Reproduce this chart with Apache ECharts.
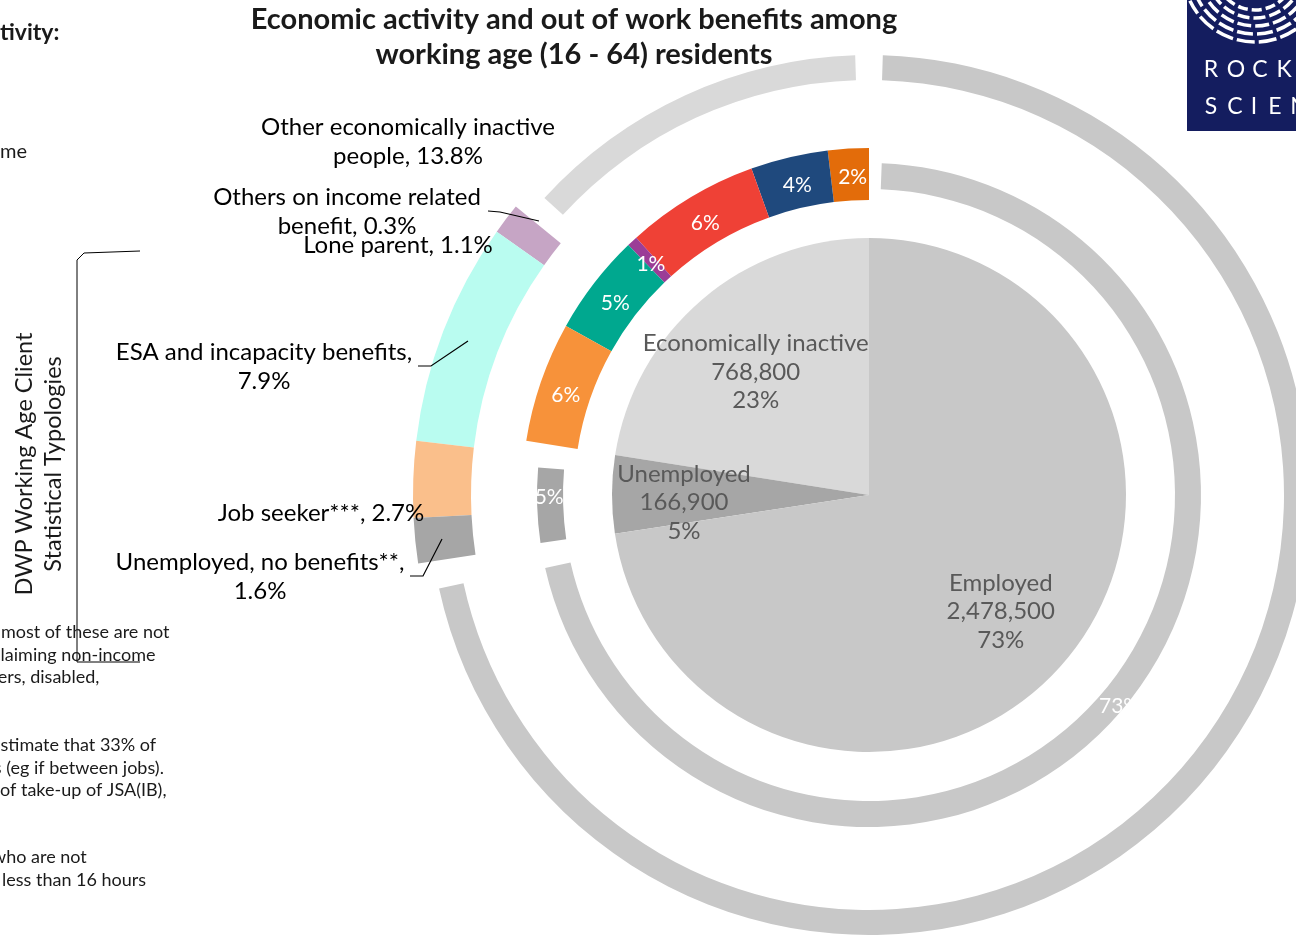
<!DOCTYPE html>
<html><head><meta charset="utf-8">
<script src="https://cdn.jsdelivr.net/npm/echarts@6/dist/echarts.min.js"></script>
<style>html,body{margin:0;padding:0;background:#fff}#c{width:1296px;height:937px}</style>
</head><body><div id="c"></div>
<script>
// ---------- DATA ----------
const titleLines = ['Economic activity and out of work benefits among', 'working age (16 - 64) residents'];

// Inner pie: economic activity of working age residents (counts)
const activityNames = ['Economically inactive', 'Unemployed', 'Employed'];
const activityCounts = [768800, 166900, 2478500];

// Middle ring: % of working age residents (inactive split by group, then unemployed, employed)
const middleNames = ['Inactive group A', 'Inactive group B', 'Inactive group C', 'Inactive group D', 'Inactive group E', 'Inactive group F', 'Unemployed', 'Employed'];
const middleValues = [1.9, 3.6, 6.2, 0.5, 4.7, 5.6, 4.89, 72.59];

// Outer ring: DWP Working Age Client Statistical Typologies (% of working age residents)
const outerNames = ['Other economically inactive\npeople', 'Others on income related\nbenefit', 'Lone parent', 'ESA and incapacity benefits', 'Job seeker***', 'Unemployed, no benefits**', 'Employed'];
const outerValues = [13.8, 0.3, 1.1, 7.9, 2.7, 1.6, 72.6];

const sideTitle = ['DWP Working Age Client', 'Statistical Typologies'];
const noteLines = [
  ['most of these are not', 1, 632],
  ['claiming non-income', -8, 655],
  ['carers, disabled,', -26, 677],
  ['estimate that 33% of', -9, 745],
  ['benefits (eg if between jobs).', -62, 768],
  ['of take-up of JSA(IB),', 0, 790],
  ['who are not', -8, 857],
  ['less than 16 hours', 2, 880]
];

// ---------- STYLE ----------
const FONT = 'Lato, "Noto Sans", sans-serif';
const CX = 869, CY = 495;
const innerColors = { 'Economically inactive': '#d9d9d9', 'Unemployed': '#a6a6a6', 'Employed': '#c8c8c8' };
const innerLabelShift = { 'Economically inactive': [3, 13], 'Unemployed': [-6, 8], 'Employed': [-4, 0] };
const middleThick = {
  'Inactive group A': '#e36c0a', 'Inactive group B': '#1f497d', 'Inactive group C': '#ef4136',
  'Inactive group D': '#9b3d97', 'Inactive group E': '#00a88f', 'Inactive group F': '#f7923a'
};
const middleThin = { 'Unemployed': '#a6a6a6', 'Employed': '#c8c8c8' };
const middleLabelShift = { 'Unemployed': [2, -8], 'Employed': [3, 5] };
const outerThick = {
  'Others on income related\nbenefit': 'rgba(0,0,0,0)', 'Lone parent': '#c6a5c5', 'ESA and incapacity benefits': '#b9fcf0',
  'Job seeker***': '#fabf8b', 'Unemployed, no benefits**': '#a6a6a6'
};
const outerThin = { 'Other economically inactive\npeople': '#d9d9d9', 'Employed': '#c8c8c8' };
const breakAfterComma = { 'ESA and incapacity benefits': true, 'Unemployed, no benefits**': true };
const outerLabelPos = {
  'Other economically inactive\npeople': { x: 408, y: 142 },
  'Others on income related\nbenefit': { x: 347, y: 212 },
  'Lone parent': { x: 398, y: 245 },
  'ESA and incapacity benefits': { x: 264, y: 367 },
  'Job seeker***': { x: 321, y: 513 },
  'Unemployed, no benefits**': { x: 260, y: 577 }
};
const leaderLines = [
  [[488, 211], [500, 212], [539, 221]],
  [[418, 366], [431, 366], [468, 341]],
  [[410, 576], [423, 576], [442, 539]]
];
const TRANSPARENT = 'rgba(0,0,0,0)';

function outerLabel(name, v) {
  return name + (breakAfterComma[name] ? ',\n' : ', ') + v.toFixed(1) + '%';
}

const base = {
  type: 'pie', center: [CX, CY], startAngle: 90, clockwise: false,
  avoidLabelOverlap: false, silent: true, animation: false,
  emphasis: { disabled: true }
};

const series = [];
// inner pie
series.push(Object.assign({}, base, {
  radius: [0, 257],
  label: { show: false }, labelLine: { show: false },
  data: activityNames.map((n, i) => ({ name: n, value: activityCounts[i], itemStyle: { color: innerColors[n], borderWidth: 0 } }))
}));
// inner labels
series.push(Object.assign({}, base, {
  radius: [95, 257],
  label: {
    show: true, position: 'inside', color: '#595959', fontFamily: FONT, fontSize: 24, lineHeight: 28.5,
    formatter: p => p.name + '\n' + p.value.toLocaleString('en-US') + '\n' + Math.round(p.percent) + '%'
  },
  labelLine: { show: false },
  labelLayout: p => { const s = innerLabelShift[activityNames[p.dataIndex]]; return { dx: s[0], dy: s[1] }; },
  data: activityNames.map((n, i) => ({ name: n, value: activityCounts[i], itemStyle: { color: TRANSPARENT, borderWidth: 0 } }))
}));
// middle thick
series.push(Object.assign({}, base, {
  radius: [295, 347],
  label: { show: true, position: 'inside', color: '#fff', fontFamily: FONT, fontSize: 21, formatter: p => Math.round(p.value) + '%' },
  labelLine: { show: false },
  labelLayout: () => ({ dx: 3, dy: 6 }),
  data: middleNames.map((n, i) => ({
    name: n, value: middleValues[i],
    itemStyle: { color: middleThick[n] || TRANSPARENT, borderWidth: 0 },
    label: { show: !!middleThick[n] }
  }))
}));
// middle thin
series.push(Object.assign({}, base, {
  radius: [306, 332], padAngle: 4.4,
  label: { show: true, position: 'inside', color: '#fff', fontFamily: FONT, fontSize: 21, formatter: p => Math.round(p.value) + '%' },
  labelLine: { show: false },
  labelLayout: p => { const s = middleLabelShift[middleNames[p.dataIndex]] || [0, 0]; return { dx: s[0], dy: s[1] }; },
  data: middleNames.map((n, i) => ({
    name: n, value: middleValues[i],
    itemStyle: { color: middleThin[n] || TRANSPARENT, borderWidth: 0 },
    label: { show: !!middleThin[n] }
  }))
}));
function outerLayout(p) {
  const pos = outerLabelPos[outerNames[p.dataIndex]];
  if (!pos) return {};
  return { x: pos.x, y: pos.y, align: 'center', verticalAlign: 'middle' };
}
// outer thick
series.push(Object.assign({}, base, {
  radius: [398, 456],
  label: { show: true, position: 'outside', color: '#000', fontFamily: FONT, fontSize: 24, lineHeight: 29, align: 'center',
    formatter: p => outerLabel(p.name, p.value) },
  labelLine: { show: false },
  labelLayout: outerLayout,
  data: outerNames.map((n, i) => ({
    name: n, value: outerValues[i],
    itemStyle: { color: outerThick[n] || TRANSPARENT, borderWidth: 0 },
    label: { show: !!outerThick[n] }
  }))
}));
// outer thin
series.push(Object.assign({}, base, {
  radius: [415, 440], padAngle: 3.6,
  label: { show: true, position: 'outside', color: '#000', fontFamily: FONT, fontSize: 24, lineHeight: 29, align: 'center',
    formatter: p => outerLabel(p.name, p.value) },
  labelLine: { show: false },
  labelLayout: outerLayout,
  data: outerNames.map((n, i) => ({
    name: n, value: outerValues[i],
    itemStyle: { color: outerThin[n] || TRANSPARENT, borderWidth: 0 },
    label: { show: !!outerThin[n] && n !== 'Employed' }
  }))
}));

// ---------- GRAPHICS ----------
const graphic = [];
graphic.push({ type: 'text', x: 574, y: 37, style: { text: titleLines.join('\n'), font: 'bold 29px ' + FONT, fill: '#1a1a1a', align: 'center', verticalAlign: 'middle', lineHeight: 35 } });
graphic.push({ type: 'text', x: 0, y: 33, style: { text: 'tivity:', font: 'bold 23px ' + FONT, fill: '#1a1a1a', align: 'left', verticalAlign: 'middle' } });
graphic.push({ type: 'text', x: 0, y: 152, style: { text: 'me', font: '20px ' + FONT, fill: '#1a1a1a', align: 'left', verticalAlign: 'middle' } });
graphic.push({ type: 'text', x: 39, y: 464, rotation: Math.PI / 2, style: { text: sideTitle.join('\n'), font: '23.5px ' + FONT, fill: '#1a1a1a', align: 'center', verticalAlign: 'middle', lineHeight: 29 } });
graphic.push({ type: 'polyline', shape: { points: [[140, 251], [84, 253], [77, 260], [77, 662], [140, 662]] }, style: { stroke: '#000', lineWidth: 1, fill: null } });
noteLines.forEach(l => graphic.push({ type: 'text', x: l[1], y: l[2], style: { text: l[0], font: '18px ' + FONT, fill: '#1a1a1a', align: 'left', verticalAlign: 'middle' } }));
leaderLines.forEach(pts => graphic.push({ type: 'polyline', z: 100, shape: { points: pts }, style: { stroke: '#000', lineWidth: 1.2, fill: null } }));
// logo
const logo = { type: 'group', children: [] };
logo.children.push({ type: 'rect', shape: { x: 1187, y: 0, width: 120, height: 131 }, style: { fill: '#141d5f' } });
[[1255, -30, 40], [1255, -30, 48], [1255, -30, 56], [1255, -30, 64], [1255, -30, 72]].forEach((a, i) => {
  logo.children.push({ type: 'arc', shape: { cx: a[0], cy: a[1], r: a[2], startAngle: 0.35, endAngle: 2.7 }, style: { stroke: '#fff', lineWidth: 3.5, fill: null, lineDash: [10 + i * 2, 4] } });
});
[['R', 1211], ['O', 1236], ['C', 1260], ['K', 1284], ['E', 1308]].forEach(c => logo.children.push({ type: 'text', x: c[1], y: 70, style: { text: c[0], font: '23px ' + FONT, fill: '#fff', align: 'center', verticalAlign: 'middle' } }));
[['S', 1211], ['C', 1235], ['I', 1254], ['E', 1275], ['N', 1299]].forEach(c => logo.children.push({ type: 'text', x: c[1], y: 107, style: { text: c[0], font: '23px ' + FONT, fill: '#fff', align: 'center', verticalAlign: 'middle' } }));
graphic.push(logo);

const chart = echarts.init(document.getElementById('c'), null, { renderer: 'canvas' });
chart.setOption({ animation: false, backgroundColor: '#fff', series: series, graphic: graphic });
</script></body></html>
